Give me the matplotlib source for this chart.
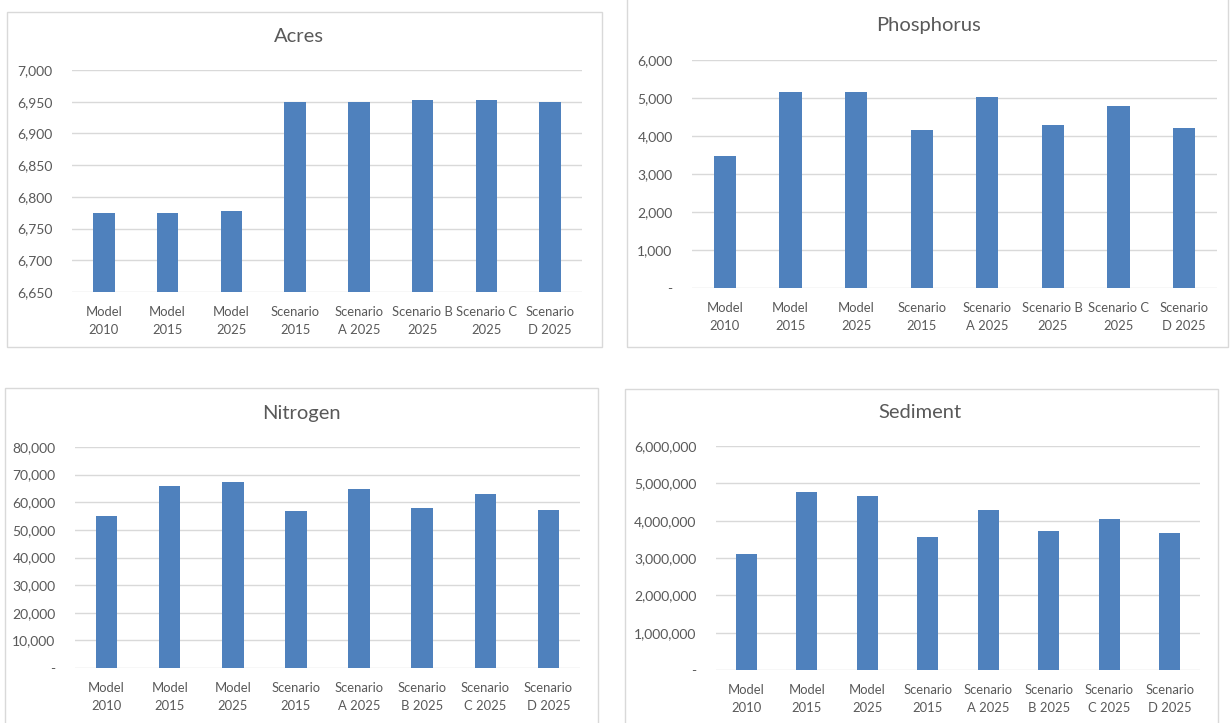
import matplotlib
matplotlib.use('Agg')
import matplotlib.pyplot as plt
from matplotlib.patches import Rectangle
from matplotlib.ticker import FuncFormatter

plt.rcParams['font.family'] = ['Lato', 'DejaVu Sans']

# data
labels_top = ['Model\n2010', 'Model\n2015', 'Model\n2025', 'Scenario\n2015',
              'Scenario\nA 2025', 'Scenario B\n2025', 'Scenario C\n2025', 'Scenario\nD 2025']
labels_bottom = ['Model\n2010', 'Model\n2015', 'Model\n2025', 'Scenario\n2015',
                 'Scenario\nA 2025', 'Scenario\nB 2025', 'Scenario\nC 2025', 'Scenario\nD 2025']

acres = [6775, 6775, 6777, 6950, 6950, 6952, 6953, 6950]
phosphorus = [3480, 5160, 5160, 4150, 5030, 4290, 4790, 4210]
nitrogen = [55000, 66000, 67300, 57000, 64800, 58000, 63000, 57300]
sediment = [3100000, 4770000, 4660000, 3570000, 4290000, 3710000, 4050000, 3660000]

W, H = 1230, 723
BAR = '#4f81bd'
GRID = '#d9d9d9'
TXT = '#595959'

fig = plt.figure(figsize=(W / 100, H / 100), dpi=100)
fig.patch.set_facecolor('white')


def box(x0, y0, x1, y1):
    # panel frame, pixel coords from top-left
    fig.patches.append(Rectangle((x0 / W, 1 - y1 / H), (x1 - x0) / W, (y1 - y0) / H,
                                 transform=fig.transFigure, fill=False,
                                 edgecolor='#d9d9d9', linewidth=1.0))


def fmt(v, pos):
    if v == 0:
        return '-'
    return f'{v:,.0f}'


def panel(rect, vals, labels, title, ylim, step, title_xy):
    x0, y0, x1, y1 = rect
    ax = fig.add_axes([x0 / W, 1 - y1 / H, (x1 - x0) / W, (y1 - y0) / H])
    pos = range(len(vals))
    ax.bar(pos, [v - ylim[0] for v in vals], bottom=ylim[0], width=0.34, color=BAR, zorder=3)
    ax.set_xlim(-0.5, len(vals) - 0.5)
    ax.set_ylim(*ylim)
    ticks = []
    t = ylim[0]
    while t <= ylim[1] + 1e-9:
        ticks.append(t)
        t += step
    ax.set_yticks(ticks)
    ax.yaxis.set_major_formatter(FuncFormatter(fmt))
    ax.yaxis.grid(True, color=GRID, linewidth=1.0, zorder=0)
    ax.set_axisbelow(True)
    for s in ax.spines.values():
        s.set_visible(False)
    ax.set_xticks(list(pos))
    ax.set_xticklabels(labels, linespacing=1.6)
    ax.tick_params(axis='both', length=0, colors=TXT)
    ax.tick_params(axis='y', pad=14, labelsize=10)
    ax.tick_params(axis='x', pad=10, labelsize=9.4)
    ax.set_facecolor('none')
    fig.text(title_xy[0] / W, 1 - title_xy[1] / H, title, ha='center', va='center',
             fontsize=14.5, color=TXT)
    return ax


box(7, 12, 602, 347)
box(627, -2, 1228, 347)
box(5, 388, 598, 730)
box(625, 389, 1218, 730)

panel((72, 70, 582, 292), acres, labels_top, 'Acres', (6650, 7000), 50, (299, 37))
panel((692, 60, 1217, 288), phosphorus, labels_top, 'Phosphorus', (0, 6000), 1000, (929, 25))
panel((75, 447, 580, 668), nitrogen, labels_bottom, 'Nitrogen', (0, 80000), 10000, (301, 413))
panel((716, 446, 1200, 670), sediment, labels_bottom, 'Sediment', (0, 6000000), 1000000, (920, 413))

fig.savefig('out.png', dpi=100)
